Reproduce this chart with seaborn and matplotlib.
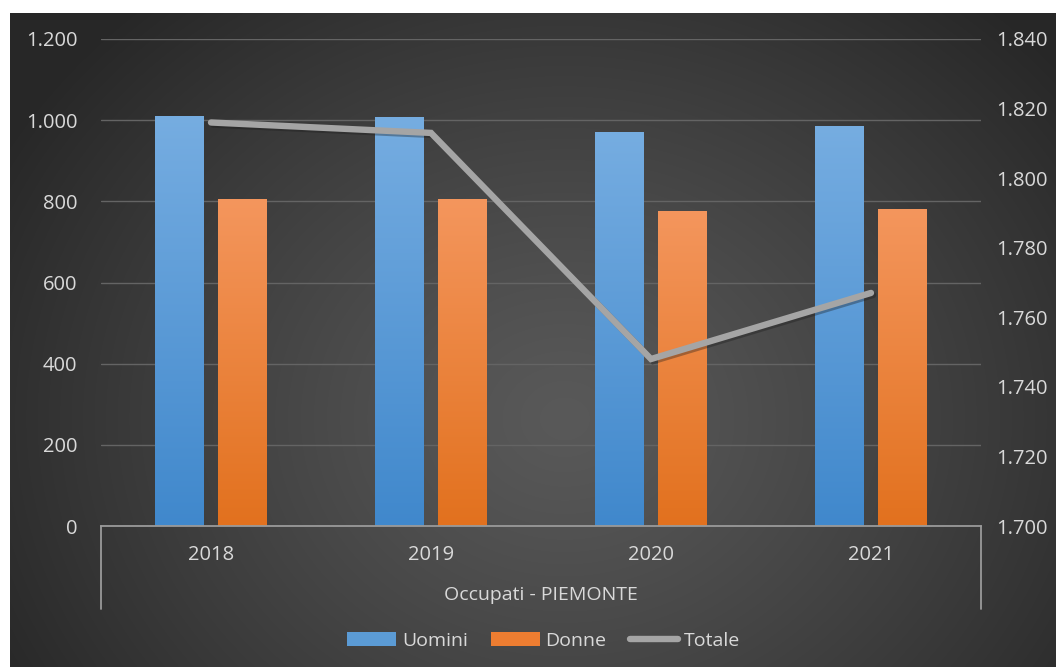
import numpy as np
import pandas as pd
import matplotlib
matplotlib.use("Agg")
import matplotlib.pyplot as plt
import matplotlib.patheffects as pe
from matplotlib.colors import to_rgb
from matplotlib.lines import Line2D
from matplotlib.patches import Patch
from matplotlib.ticker import FuncFormatter, FixedLocator
import seaborn as sns

# --- dati (migliaia di occupati) ---
anni = ["2018", "2019", "2020", "2021"]
uomini = [1011, 1008, 971, 986]
donne = [805, 805, 777, 781]
totale = [1816, 1813, 1748, 1767]
serie = ["Uomini", "Donne"]
nome_totale = "Totale"
titolo_asse = "Occupati - PIEMONTE"
tick_sx = [0, 200, 400, 600, 800, 1000, 1200]
tick_dx = [1700, 1720, 1740, 1760, 1780, 1800, 1820, 1840]

# --- stile ---
BLU = "#5b9bd5"
ARANCIO = "#ed7d31"
GRIGIO = "#a5a5a5"
TESTO = "#d9d9d9"
BLU_ALTO, BLU_BASSO = "#76ade1", "#4088cc"
ARA_ALTO, ARA_BASSO = "#f4965d", "#e2711e"
FS = 14.5

sns.set_theme(style="white")
plt.rcParams["font.family"] = ["Open Sans", "DejaVu Sans"]

W, H = 1056, 667
fig = plt.figure(figsize=(W / 100, H / 100), dpi=100)
fig.patch.set_facecolor("white")

# sfondo scuro con sfumatura radiale
bg = fig.add_axes([10 / W, 0, 1 - 10 / W, 1 - 13 / H])
bg.set_zorder(-10)
gh, gw = 654, 1046
yy, xx = np.mgrid[0:gh, 0:gw]
cx, cy = 0.53 * gw, 0.62 * gh
d = np.sqrt(((xx - cx) / (0.62 * gw)) ** 2 + ((yy - cy) / (0.85 * gh)) ** 2)
t = np.clip(d, 0, 1) ** 1.2
c0 = np.array(to_rgb("#595959"))
c1 = np.array(to_rgb("#272727"))
bg.imshow(c0 + (c1 - c0) * t[..., None], aspect="auto", extent=[0, 1, 0, 1],
          origin="upper", interpolation="bilinear")
bg.axis("off")

# area del grafico
ax = fig.add_axes([101 / W, 1 - 526 / H, 880 / W, 487 / H])
ax.patch.set_alpha(0)

df = pd.DataFrame({
    "anno": anni * 2,
    "serie": [serie[0]] * len(anni) + [serie[1]] * len(anni),
    "valore": uomini + donne,
})
sns.barplot(data=df, x="anno", y="valore", hue="serie", order=anni,
            hue_order=serie, palette=[BLU, ARANCIO], width=0.568, gap=0.216,
            saturation=1, errorbar=None, legend=False, ax=ax)

# riempimento sfumato delle barre
grad = np.linspace(0, 1, 256)[:, None, None]
for p in list(ax.patches):
    fc = np.array(p.get_facecolor()[:3])
    if np.allclose(fc, to_rgb(BLU), atol=0.02):
        top, bot = np.array(to_rgb(BLU_ALTO)), np.array(to_rgb(BLU_BASSO))
    else:
        top, bot = np.array(to_rgb(ARA_ALTO)), np.array(to_rgb(ARA_BASSO))
    x0, y0, w, h = p.get_x(), p.get_y(), p.get_width(), p.get_height()
    im = ax.imshow(top + (bot - top) * grad, extent=[x0, x0 + w, y0, y0 + h],
                   aspect="auto", origin="upper", interpolation="bilinear",
                   zorder=p.get_zorder())
    im.set_clip_path(p)
    p.set_facecolor("none")
    p.set_edgecolor("none")

ax.set_xlim(-0.5, len(anni) - 0.5)
ax.set_ylim(tick_sx[0], tick_sx[-1])
ax.yaxis.set_major_locator(FixedLocator(tick_sx))
fmt = FuncFormatter(lambda v, _: f"{v:,.0f}".replace(",", "."))
ax.yaxis.set_major_formatter(fmt)
ax.yaxis.grid(True, color="#646464", lw=1)
ax.xaxis.grid(False)
ax.set_axisbelow(True)
for s in ["top", "left", "right"]:
    ax.spines[s].set_visible(False)
ax.spines["bottom"].set_color("#9a9a9a")
ax.spines["bottom"].set_linewidth(1.3)
ax.tick_params(axis="y", length=0, pad=17, labelsize=FS, labelcolor=TESTO)
ax.tick_params(axis="x", length=0, pad=14, labelsize=FS, labelcolor=TESTO)
ax.set_xlabel("")
ax.set_ylabel("")

# cornice dell'asse delle categorie
for xa in (0, 1):
    ax.plot([xa, xa], [0, -83 / 487], transform=ax.transAxes, clip_on=False,
            color="#9a9a9a", lw=1.3)
ax.text(0.5, -(595 - 526) / 487, titolo_asse, transform=ax.transAxes,
        ha="center", va="center", fontsize=FS - 0.5, color=TESTO)

# totale sull'asse secondario
ax2 = ax.twinx()
ax2.patch.set_alpha(0)
sns.lineplot(x=list(range(len(anni))), y=totale, ax=ax2, color=GRIGIO, lw=4.6,
             solid_capstyle="round", solid_joinstyle="miter",
             path_effects=[pe.SimpleLineShadow(offset=(1.5, -1.5), alpha=0.35),
                           pe.Normal()])
ax2.set_ylim(tick_dx[0], tick_dx[-1])
ax2.yaxis.set_major_locator(FixedLocator(tick_dx))
ax2.yaxis.set_major_formatter(fmt)
ax2.grid(False)
for s in ax2.spines.values():
    s.set_visible(False)
ax2.tick_params(axis="y", length=0, pad=11, labelsize=FS, labelcolor=TESTO)
ax2.set_ylabel("")
ax.set_xlim(-0.5, len(anni) - 0.5)

# legenda
maniglie = [Patch(facecolor=BLU, edgecolor="none"),
            Patch(facecolor=ARANCIO, edgecolor="none"),
            Line2D([], [], color=GRIGIO, lw=4.6, solid_capstyle="round")]
fig.legend(maniglie, serie + [nome_totale], loc="center",
           bbox_to_anchor=(544 / W, 1 - 641 / H), ncol=3, frameon=False,
           fontsize=FS - 0.5, labelcolor=TESTO, handlelength=2.5,
           handleheight=0.7, handletextpad=0.3, columnspacing=1.2)

fig.savefig("out.png", dpi=100)
